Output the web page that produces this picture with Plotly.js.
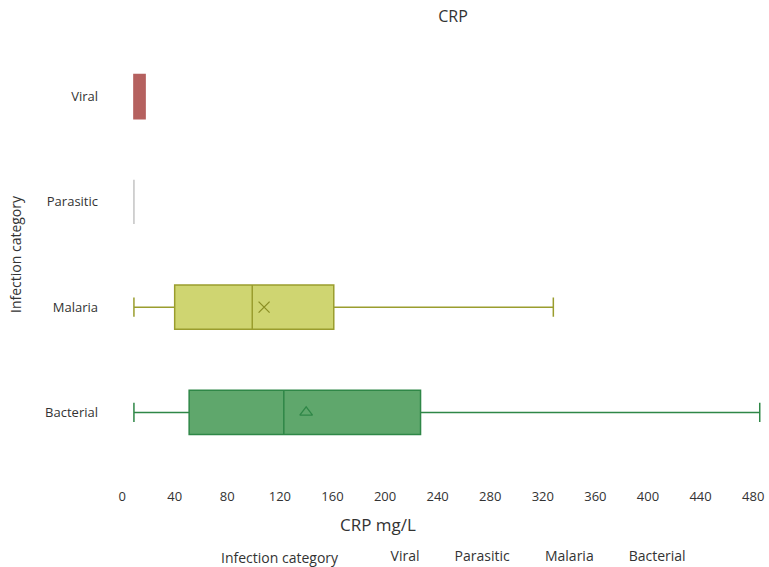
<!DOCTYPE html>
<html>
<head>
<meta charset="utf-8">
<script src="https://cdn.plot.ly/plotly-3.0.1.min.js"></script>
<style>
  html, body { margin: 0; padding: 0; background: #fff; }
  #chart { width: 769px; height: 567px; }
  .legendpoints { display: none; }
  .legendtitletext { transform: translateY(5px); }
</style>
</head>
<body>
<div id="chart"></div>
<script>
// Categories (legend / draw order)
var categories = ['Viral', 'Parasitic', 'Malaria', 'Bacterial'];
// Box statistics, CRP mg/L
var lowerFence = [9, 9, 9, 9];
var q1Values   = [9, 9, 40, 51];
var medians    = [13, 9, 99, 123];
var q3Values   = [17.5, 9, 161, 227];
var upperFence = [17.5, 9, 328, 485];
// Mean markers (only shown for Malaria and Bacterial)
var meanCategories = ['Malaria', 'Bacterial'];
var meanValues = [108, 140];
var meanSymbols = ['x-thin-open', 'triangle-up-open'];
// Axis tick values
var xTicks = [0, 40, 80, 120, 160, 200, 240, 280, 320, 360, 400, 440, 480];
var yOrder = ['Bacterial', 'Malaria', 'Parasitic', 'Viral'];

var fillColors = ['#b5615f', 'rgba(200,200,200,0.6)', '#cfd571', '#5fa76c'];
var lineColors = ['#b5615f', '#c4c4c4', '#9a9d2e', '#2f8747'];
var meanColors = ['#8c8f25', '#2f8747'];

var traces = [];
categories.forEach(function (c, i) {
  traces.push({
    type: 'box',
    orientation: 'h',
    name: c,
    y: [c],
    q1: [q1Values[i]],
    median: [medians[i]],
    q3: [q3Values[i]],
    lowerfence: [lowerFence[i]],
    upperfence: [upperFence[i]],
    width: 0.42,
    whiskerwidth: 0.44,
    fillcolor: fillColors[i],
    line: { color: lineColors[i], width: 1.5 },
    hoverinfo: 'x'
  });
});
meanCategories.forEach(function (c, i) {
  traces.push({
    type: 'scatter',
    mode: 'markers',
    x: [meanValues[i]],
    y: [c],
    showlegend: false,
    marker: { symbol: meanSymbols[i], size: 11, color: meanColors[i], line: { color: meanColors[i], width: 1.3 } }
  });
});

var fam = 'Open Sans, Noto Sans, sans-serif';

var layout = {
  width: 769,
  height: 567,
  margin: { l: 110, r: 4, t: 44, b: 102, autoexpand: false },
  paper_bgcolor: '#fff',
  plot_bgcolor: '#fff',
  font: { family: fam, size: 13, color: '#333' },
  title: {
    text: 'CRP',
    xref: 'container', x: 453 / 769, xanchor: 'center',
    yref: 'container', y: 1 - 16 / 567, yanchor: 'middle',
    font: { size: 16, color: '#333', family: fam }
  },
  xaxis: {
    range: [-9.2, 489],
    tickvals: xTicks,
    ticktext: xTicks.map(String),
    showgrid: false, zeroline: false, showline: false, ticks: '',
    ticklabelstandoff: 22,
    tickfont: { size: 13, color: '#333' }
  },
  yaxis: {
    type: 'category',
    categoryorder: 'array',
    categoryarray: yOrder,
    range: [-0.5, 3.5],
    showgrid: false, zeroline: false, showline: false, ticks: '',
    ticklabelstandoff: 11,
    tickfont: { size: 13, color: '#333' },
    title: { text: 'Infection category', font: { size: 14, color: '#333' }, standoff: 20 }
  },
  showlegend: true,
  legend: {
    orientation: 'h',
    xref: 'container', x: 219 / 769, xanchor: 'left',
    yref: 'container', y: 1 - 540 / 567, yanchor: 'top',
    itemwidth: 30,
    indentation: -10,
    traceorder: 'normal',
    font: { size: 14, color: '#333' },
    title: { text: 'Infection category\u00a0\u00a0\u00a0\u00a0', side: 'left', font: { size: 14, color: '#333' } }
  },
  annotations: [{
    text: 'CRP mg/L',
    xref: 'paper', x: (378 - 110) / 655, xanchor: 'center',
    yref: 'paper', y: (465 - 524) / 421, yanchor: 'middle',
    showarrow: false,
    font: { size: 17, color: '#333' }
  }]
};

Plotly.newPlot('chart', traces, layout, { displayModeBar: false, responsive: false });
</script>
</body>
</html>
